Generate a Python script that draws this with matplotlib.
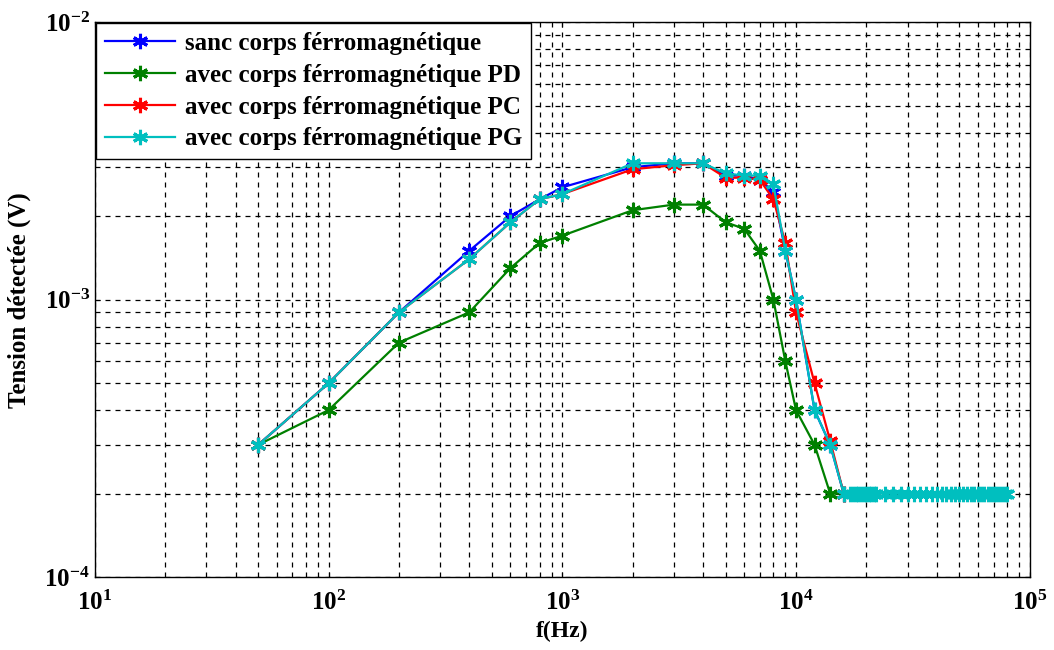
import numpy as np
import matplotlib.pyplot as plt
from matplotlib.ticker import LogLocator, NullFormatter

# frequencies (Hz)
f_main = [50, 100, 200, 400, 600, 800, 1000, 2000, 3000, 4000, 5000,
          6000, 7000, 8000, 9000, 10000, 12000, 14000, 16000]
f_tail = [17000, 17500, 18000, 18500, 19000, 19500, 20000, 20500, 21000,
          21500, 22000, 24000, 26000, 28000, 30000, 32000, 34000, 36000,
          38000, 40000, 42000, 44000, 46000, 48000, 50000, 52000, 54000,
          56000, 58000, 60000, 62000, 64000, 66000, 68000, 70000, 72000,
          74000, 76000, 78000, 80000]

# detected voltage (V)
v_sanc = [3e-4, 5e-4, 9e-4, 1.5e-3, 2.0e-3, 2.3e-3, 2.54e-3, 3.0e-3, 3.1e-3,
          3.1e-3, 2.8e-3, 2.8e-3, 2.7e-3, 2.45e-3, 1.5e-3, 1.0e-3, 4e-4,
          3e-4, 2e-4]
v_pd = [3e-4, 4e-4, 7e-4, 9e-4, 1.3e-3, 1.6e-3, 1.7e-3, 2.1e-3, 2.2e-3,
        2.2e-3, 1.9e-3, 1.8e-3, 1.5e-3, 1.0e-3, 6e-4, 4e-4, 3e-4, 2e-4,
        2e-4]
v_pc = [3e-4, 5e-4, 9e-4, 1.4e-3, 1.9e-3, 2.3e-3, 2.4e-3, 2.95e-3, 3.05e-3,
        3.1e-3, 2.75e-3, 2.75e-3, 2.7e-3, 2.3e-3, 1.6e-3, 9e-4, 5e-4,
        3.1e-4, 2e-4]
v_pg = [3e-4, 5e-4, 9e-4, 1.4e-3, 1.9e-3, 2.3e-3, 2.4e-3, 3.1e-3, 3.1e-3,
        3.1e-3, 2.85e-3, 2.8e-3, 2.8e-3, 2.6e-3, 1.5e-3, 1.0e-3, 4e-4,
        3e-4, 2e-4]
v_tail = 2e-4

labels = ["sanc corps férromagnétique",
          "avec corps férromagnétique PD",
          "avec corps férromagnétique PC",
          "avec corps férromagnétique PG"]
colors = ["#0000ff", "#008000", "#ff0000", "#00bfbf"]

plt.rcParams['font.family'] = ['Liberation Serif', 'DejaVu Serif']
plt.rcParams['font.weight'] = 'bold'

fig = plt.figure(figsize=(10.54, 6.5), dpi=100)
ax = fig.add_axes([0.090, 0.112, 0.887, 0.854])

f_all = f_main + f_tail
series = [v_sanc, v_pd, v_pc, v_pg]
mk = (6, 2, 0)
for i, (v, c, lab) in enumerate(zip(series, colors, labels)):
    if i == 3:
        x = f_all
        y = v + [v_tail] * len(f_tail)
    else:
        x = f_main
        y = v
    ax.plot(x, y, color=c, lw=1.6, marker=mk, ms=11, mew=2.2, label=lab)

ax.set_xscale('log')
ax.set_yscale('log')
ax.set_xlim(10, 1e5)
ax.set_ylim(1e-4, 1e-2)

ax.xaxis.set_major_locator(LogLocator(base=10, numticks=10))
ax.xaxis.set_minor_locator(LogLocator(base=10, subs=np.arange(2, 10), numticks=10))
ax.yaxis.set_minor_locator(LogLocator(base=10, subs=np.arange(2, 10), numticks=10))
ax.xaxis.set_minor_formatter(NullFormatter())
ax.yaxis.set_minor_formatter(NullFormatter())

ax.grid(True, which='both', color='black', linestyle=(0, (4, 4)), lw=0.9)
ax.tick_params(which='both', direction='in', top=True, right=True, labelsize=18)
ax.tick_params(axis='x', pad=10)
for sp in ax.spines.values():
    sp.set_linewidth(1.0)

ax.set_xlabel("f(Hz)", fontsize=17, fontweight='bold', labelpad=4)
ax.set_ylabel("Tension détectée (V)", fontsize=18, fontweight='bold', labelpad=10)

leg = ax.legend(loc='upper left', fontsize=18, frameon=True, fancybox=False,
                edgecolor='black', framealpha=1, borderaxespad=0.05,
                handlelength=2.8, handletextpad=0.4, labelspacing=0.35,
                borderpad=0.35)
leg.get_frame().set_linewidth(1.0)
for t in leg.get_texts():
    t.set_fontweight('bold')

fig.savefig("out.png", dpi=100)
